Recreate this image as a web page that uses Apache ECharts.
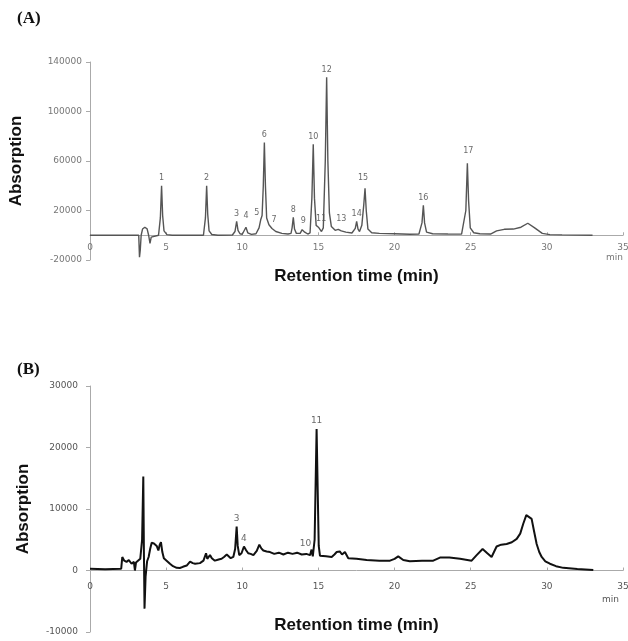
<!DOCTYPE html>
<html lang="en">
<head>
    <meta charset="UTF-8">
    <title>Chromatograms</title>
    <script src="https://cdn.jsdelivr.net/npm/echarts@6/dist/echarts.min.js"></script>
    <style>
        html, body { margin: 0; padding: 0; background: #fff; }
        #chart { width: 628px; height: 641px; }
    </style>
</head>
<body>
<div id="chart"></div>
<script>
    // (A) standard mixture trace: [time (min), absorption]
    var traceA = [
        [0, 0], [3.2, 0], [3.25, -17800], [3.3, -12000], [3.36, 0], [3.45, 5000], [3.6, 6500], [3.75, 5200],
        [3.85, 0], [3.94, -6500], [4.02, -1500], [4.1, 0],
        [4.5, 0], [4.62, 14000], [4.70, 40000], [4.77, 16000], [4.86, 3500], [5.05, 500], [5.4, 0],
        [7.45, 0], [7.58, 14000], [7.66, 40000], [7.73, 17000], [7.82, 3500], [8.0, 600], [8.4, 0],
        [9.35, 200], [9.52, 3000], [9.63, 11300], [9.72, 4000], [9.85, 1200], [10.0, 800],
        [10.12, 2000], [10.24, 6500], [10.36, 2000], [10.6, 700], [10.9, 1200],
        [11.1, 6000], [11.22, 13000], [11.3, 16000], [11.38, 40000], [11.45, 75000], [11.52, 40000],
        [11.6, 14000], [11.75, 8500], [11.95, 5500], [12.2, 3000], [12.6, 1500], [13.0, 1000], [13.2, 1500],
        [13.27, 6000], [13.35, 14500], [13.43, 5000], [13.55, 1500], [13.8, 1500],
        [13.93, 4500], [14.0, 5600], [14.1, 2500], [14.3, 1000], [14.45, 2000],
        [14.57, 30000], [14.66, 73500], [14.74, 30000], [14.85, 8000], [15.0, 6500], [15.1, 5000],
        [15.2, 3000], [15.32, 6000], [15.45, 60000], [15.54, 127700], [15.62, 60000], [15.72, 18000],
        [15.85, 7000], [16.1, 4000], [16.3, 4800], [16.37, 5700], [16.5, 3500], [16.8, 2500], [17.2, 1800],
        [17.42, 5500], [17.51, 11300], [17.6, 5000], [17.7, 3000], [17.85, 8000],
        [17.98, 25000], [18.06, 38000], [18.14, 20000], [18.25, 5000], [18.5, 2000], [19, 1500],
        [20, 1200], [21.0, 800], [21.6, 1000],
        [21.8, 10000], [21.89, 24200], [21.97, 10000], [22.1, 2500], [22.5, 1200], [23.5, 1000], [24.4, 900],
        [24.68, 20000], [24.78, 58200], [24.86, 28000], [24.97, 6000], [25.2, 2000], [25.6, 1200],
        [26.3, 1000], [26.7, 3500], [27.2, 4800], [27.8, 5000], [28.3, 6500], [28.75, 9700], [29.2, 6000],
        [29.7, 1500], [30.2, 500], [31, 300], [33, 0]
    ];

    // (A) peak numbers, retention times and heights
    var peakNamesA = ['1', '2', '3', '4', '5', '6', '7', '8', '9', '10', '11', '12', '13', '14', '15', '16', '17'];
    var peakTimesA = [4.70, 7.66, 9.63, 10.24, 11.22, 11.45, 11.75, 13.35, 14.0, 14.66, 15.05, 15.54, 16.37, 17.51, 18.06, 21.89, 24.78];
    var peakHeightsA = [40000, 40000, 11300, 6500, 13000, 75000, 8500, 14500, 5600, 73500, 6500, 127700, 5700, 11300, 38000, 24200, 58200];

    // (B) sample trace
    var traceB = [
        [0, 300], [1, 200], [2.05, 300], [2.12, 2200], [2.25, 1600], [2.4, 1400], [2.55, 1700], [2.73, 1100],
        [2.88, 1400], [2.95, 0], [3.02, 1300], [3.15, 1600], [3.3, 1900], [3.42, 5000], [3.5, 15300],
        [3.54, 3000], [3.58, -6200], [3.65, -1000], [3.75, 1500], [3.85, 2200], [3.95, 3500], [4.05, 4500],
        [4.2, 4400], [4.38, 4000], [4.49, 3250], [4.58, 4200], [4.66, 4600], [4.75, 3000], [4.85, 2000],
        [5.03, 1600], [5.25, 1100], [5.45, 700], [5.69, 430], [5.9, 400], [6.1, 600], [6.35, 810],
        [6.57, 1460], [6.75, 1200], [6.9, 1100], [7.22, 1200], [7.45, 1600], [7.55, 1900], [7.62, 2800],
        [7.7, 1900], [7.77, 2100], [7.88, 2500], [8.0, 2000], [8.2, 1600], [8.45, 1800], [8.64, 1900],
        [8.8, 2200], [8.98, 2600], [9.1, 2300], [9.24, 2000], [9.41, 2200], [9.53, 3500], [9.63, 7150],
        [9.7, 4000], [9.8, 2500], [9.95, 2800], [10.11, 3900], [10.25, 3300], [10.39, 2800], [10.55, 2700],
        [10.73, 2500], [10.95, 3200], [11.12, 4200], [11.25, 3600], [11.38, 3250], [11.6, 3100],
        [11.82, 3000], [12.1, 2700], [12.4, 2900], [12.7, 2600], [13.0, 2900], [13.3, 2700], [13.6, 2900],
        [13.9, 2600], [14.2, 2700], [14.45, 2500], [14.55, 3400], [14.63, 2300], [14.75, 5000],
        [14.88, 23000], [14.96, 12000], [15.02, 4000], [15.1, 2400], [15.5, 2300], [15.87, 2200],
        [16.05, 2600], [16.2, 3000], [16.4, 3100], [16.55, 2600], [16.6, 2700], [16.74, 3000],
        [16.96, 2000], [17.5, 1900], [18.17, 1700], [19.0, 1600], [19.7, 1600], [20.0, 1900],
        [20.24, 2300], [20.57, 1700], [21.0, 1500], [21.8, 1600], [22.54, 1600], [22.98, 2100],
        [23.6, 2100], [24.3, 1900], [25.06, 1600], [25.39, 2500], [25.78, 3500], [26.09, 2800],
        [26.37, 2200], [26.7, 3900], [27.0, 4200], [27.36, 4300], [27.7, 4600], [28.02, 5150],
        [28.25, 6000], [28.45, 7600], [28.65, 9000], [28.78, 9300], [29.0, 8400], [29.15, 6500],
        [29.33, 4300], [29.5, 3000], [29.66, 2200], [29.9, 1500], [30.2, 1100], [30.6, 700],
        [31.08, 430], [32, 250], [33.05, 100]
    ];

    var peakNamesB = ['3', '4', '10', '11'];
    var peakTimesB = [9.63, 10.11, 14.55, 14.88];
    var peakHeightsB = [7150, 3900, 3400, 23000];

    var yTicksA = [-20000, 20000, 60000, 100000, 140000];

    // label nudges (pixels)
    var offsetsA = {'4': [0, -4], '5': [-4, 1], '7': [5, 3], '11': [2, -1], '13': [2, -2], '15': [-2, -3], '17': [1, -5]};
    var offsetsB = {'10': [-6, 2]};

    function peakItems(names, times, heights, offsets) {
        return names.map(function (n, i) {
            var item = {name: n, value: [times[i], heights[i]]};
            if (offsets[n]) item.label = {offset: offsets[n]};
            return item;
        });
    }

    var plain = function (v) { return String(v); };
    var fontA = {color: '#777', fontSize: 9, fontFamily: 'DejaVu Sans', formatter: plain};
    var fontB = {color: '#555', fontSize: 9, fontFamily: 'DejaVu Sans', formatter: plain};
    var axisGray = {lineStyle: {color: '#aaa', width: 1}};
    var nameFont = {fontFamily: 'Liberation Sans', fontWeight: 'bold', fontSize: 17, color: '#111'};

    // x axis sits on the zero line: shift it up from the grid bottom
    function xAxisFor(gridIndex, offset, margin, nameGap, font) {
        return {
            type: 'value', gridIndex: gridIndex, min: 0, max: 35, interval: 5,
            offset: offset,
            name: 'Retention time (min)', nameLocation: 'middle', nameGap: nameGap,
            nameMoveOverlap: false,
            nameTextStyle: nameFont,
            axisLine: {onZero: false, lineStyle: {color: '#aaa', width: 1}},
            axisTick: {show: true, inside: true, length: 3, lineStyle: {color: '#aaa'}},
            axisLabel: Object.assign({margin: margin, showMaxLabel: true}, font),
            splitLine: {show: false}
        };
    }

    var chart = echarts.init(document.getElementById('chart'), null, {renderer: 'canvas'});
    var option = {
        animation: false,
        backgroundColor: '#fff',
        grid: [
            {left: 90, right: 5, top: 62, height: 198, outerBoundsMode: 'none'},
            {left: 90, right: 5, top: 386, height: 246, outerBoundsMode: 'none'}
        ],
        xAxis: [xAxisFor(0, -24.75, 8, 33, fontA), xAxisFor(1, -61.5, 12, 46, fontB)],
        yAxis: [
            {
                type: 'value', gridIndex: 0, min: -20000, max: 140000,
                name: 'Absorption', nameLocation: 'middle', nameGap: 65, nameTextStyle: nameFont,
                nameMoveOverlap: false,
                axisLine: Object.assign({show: true}, axisGray),
                axisTick: {show: true, length: 4, customValues: yTicksA, lineStyle: {color: '#aaa'}},
                axisLabel: Object.assign({margin: 8, customValues: yTicksA}, fontA),
                splitLine: {show: false}
            },
            {
                type: 'value', gridIndex: 1, min: -10000, max: 30000, interval: 10000,
                name: 'Absorption', nameLocation: 'middle', nameGap: 58, nameTextStyle: nameFont,
                nameMoveOverlap: false,
                axisLine: Object.assign({show: true}, axisGray),
                axisTick: {show: true, length: 4, lineStyle: {color: '#aaa'}},
                axisLabel: Object.assign({margin: 12}, fontB),
                splitLine: {show: false}
            }
        ],
        graphic: [
            {type: 'text', left: 17, top: 10, style: {text: '(A)', font: 'bold 17px "Liberation Serif"', fill: '#111'}},
            {type: 'text', left: 17, top: 361, style: {text: '(B)', font: 'bold 17px "Liberation Serif"', fill: '#111'}},
            {type: 'text', left: 606, top: 253, style: {text: 'min', font: '9px "DejaVu Sans"', fill: '#777'}},
            {type: 'text', left: 602, top: 595, style: {text: 'min', font: '9px "DejaVu Sans"', fill: '#555'}}
        ],
        series: [
            {
                type: 'line', xAxisIndex: 0, yAxisIndex: 0, data: traceA, symbol: 'none',
                lineStyle: {color: '#555', width: 1.4}, silent: true
            },
            {
                type: 'line', xAxisIndex: 1, yAxisIndex: 1, data: traceB, symbol: 'none',
                lineStyle: {color: '#111', width: 2}, silent: true
            },
            {
                type: 'scatter', xAxisIndex: 0, yAxisIndex: 0, symbolSize: 1,
                itemStyle: {color: 'rgba(0,0,0,0)'},
                data: peakItems(peakNamesA, peakTimesA, peakHeightsA, offsetsA),
                label: {show: true, position: 'top', distance: 3, formatter: '{b}',
                    color: '#444', fontSize: 8, fontFamily: 'DejaVu Sans'}
            },
            {
                type: 'scatter', xAxisIndex: 1, yAxisIndex: 1, symbolSize: 1,
                itemStyle: {color: 'rgba(0,0,0,0)'},
                data: peakItems(peakNamesB, peakTimesB, peakHeightsB, offsetsB),
                label: {show: true, position: 'top', distance: 3, formatter: '{b}',
                    color: '#444', fontSize: 9, fontFamily: 'DejaVu Sans'}
            }
        ]
    };
    chart.setOption(option);
</script>
</body>
</html>
